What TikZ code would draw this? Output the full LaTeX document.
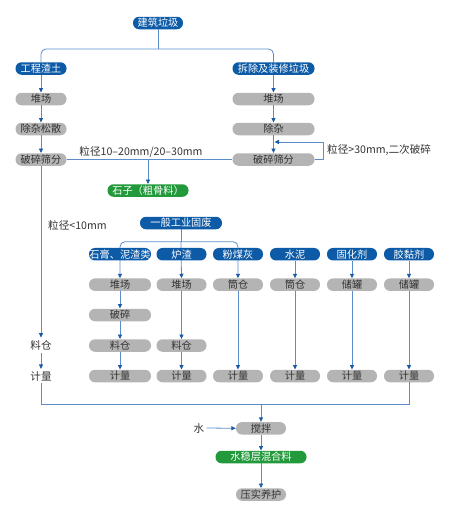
\documentclass[tikz,border=0pt]{standalone}
\usepackage{fontspec}
\setmainfont{Noto Sans CJK SC}
\usetikzlibrary{arrows.meta,backgrounds}
\definecolor{bluebox}{HTML}{0D5AA7}
\definecolor{graybox}{HTML}{B4B4B4}
\definecolor{greenbox}{HTML}{22993B}
\definecolor{lineblue}{HTML}{5A8DCA}
\definecolor{tipblue}{HTML}{1A5AA6}
\definecolor{txtgray}{HTML}{333333}
\tikzset{
  pill/.style={rounded corners=6pt, minimum height=12.5pt, inner sep=0pt, font=\fontsize{10.2}{11}\selectfont},
  bbox/.style={pill, fill=bluebox, text=white},
  gbox/.style={pill, fill=graybox, text=txtgray},
  grbox/.style={pill, fill=greenbox, text=white},
  lbl/.style={inner sep=0pt, text=txtgray, font=\fontsize{10.6}{11}\selectfont},
  ln/.style={draw=lineblue, line width=0.8pt},
  arr/.style={ln, -{Triangle[length=4.5pt,width=4pt,color=tipblue]}},
}
\begin{document}
\begin{tikzpicture}[x=1pt,y=-1pt]
\useasboundingbox (0,0) rectangle (458,514);
% top
\node[bbox, minimum width=50pt] (top) at (158,23) {建筑垃圾};
\node[bbox, minimum width=51pt] (gc) at (41,68.5) {工程渣土};
\node[bbox, minimum width=82pt] (cc) at (273.5,68.5) {拆除及装修垃圾};
\node[gbox, minimum width=51pt] (l1) at (41,99) {堆场};
\node[gbox, minimum width=51pt] (l2) at (41,129) {除杂松散};
\node[gbox, minimum width=51pt] (l3) at (41,159.5) {破碎筛分};
\node[gbox, minimum width=82pt] (r1) at (273.5,99) {堆场};
\node[gbox, minimum width=82pt] (r2) at (273.5,129) {除杂};
\node[gbox, minimum width=82pt] (r3) at (273.5,159.5) {破碎筛分};
\node[grbox, minimum width=81pt] (stone) at (148,190.5) {石子（粗骨料）};
\node[lbl] (lab1) at (141,152) {粒径10–20mm/20–30mm};
\node[lbl, anchor=west] (lab2) at (327,150.5) {粒径>30mm,二次破碎};
\node[lbl, anchor=west] (lab3) at (48,225.7) {粒径<10mm};
% general industrial waste
\node[bbox, minimum width=82pt] (gen) at (181,223) {一般工业固废};
\node[bbox, minimum width=62pt] (a1) at (120,254.2) {石膏、泥渣类};
\node[bbox, minimum width=50pt] (b1) at (181.5,254.2) {炉渣};
\node[bbox, minimum width=50pt] (c1) at (238,254.2) {粉煤灰};
\node[bbox, minimum width=50pt] (d1) at (295,254.2) {水泥};
\node[bbox, minimum width=50pt] (e1) at (352,254.2) {固化剂};
\node[bbox, minimum width=50pt] (f1) at (409,254.2) {胶黏剂};
\node[gbox, minimum width=62pt] (a2) at (120,284.7) {堆场};
\node[gbox, minimum width=50pt] (b2) at (181.5,284.7) {堆场};
\node[gbox, minimum width=50pt] (c2) at (238,284.7) {筒仓};
\node[gbox, minimum width=50pt] (d2) at (295,284.7) {筒仓};
\node[gbox, minimum width=50pt] (e2) at (352,284.7) {储罐};
\node[gbox, minimum width=50pt] (f2) at (409,284.7) {储罐};
\node[gbox, minimum width=62pt] (a3) at (120,315) {破碎};
\node[gbox, minimum width=62pt] (a4) at (120,345.5) {料仓};
\node[gbox, minimum width=50pt] (b4) at (181.5,345.5) {料仓};
\node[gbox, minimum width=62pt] (a5) at (120,376) {计量};
\node[gbox, minimum width=50pt] (b5) at (181.5,376) {计量};
\node[gbox, minimum width=50pt] (c5) at (238,376) {计量};
\node[gbox, minimum width=50pt] (d5) at (295,376) {计量};
\node[gbox, minimum width=50pt] (e5) at (352,376) {计量};
\node[gbox, minimum width=50pt] (f5) at (409,376) {计量};
\node[lbl] (lbin) at (41,345.7) {料仓};
\node[lbl] (lmeas) at (41,376) {计量};
% bottom
\node[gbox, minimum width=50pt] (mix) at (261,428.3) {搅拌};
\node[lbl] (water) at (199,428) {水};
\node[grbox, minimum width=91pt] (mixt) at (261,457) {水稳层混合料};
\node[gbox, minimum width=50pt] (comp) at (261,494.5) {压实养护};
% coordinates
\coordinate (tb) at (158,49);
\coordinate (sp) at (148,159.5);
\coordinate (fb) at (323,159.5);
\coordinate (fe) at (274.5,142);
\coordinate (br) at (181,241.7);
\coordinate (mb) at (41,404);
\coordinate (mj) at (261,404);
% connectors
\draw[ln] (top.south) -- (tb);
\draw[ln, rounded corners=5pt] (tb) -| (gc.north);
\draw[ln, rounded corners=5pt] (tb) -| (cc.north);
\draw[arr] (gc.south) -- (l1.north);
\draw[arr] (l1.south) -- (l2.north);
\draw[arr] (l2.south) -- (l3.north);
\draw[arr] (cc.south) -- (r1.north);
\draw[arr] (r1.south) -- (r2.north);
\draw[arr] (r2.south) -- (r3.north);
\draw[ln] (l3.east) -- (r3.west);
\draw[arr] (sp) -- (stone.north);
\draw[arr] (r3.east) -- (fb) |- (fe);
\draw[arr] (l3.south) -- ([yshift=3pt]lbin.north);
\draw[arr] ([yshift=-2pt]lbin.south) -- ([yshift=2pt]lmeas.north);
\begin{scope}[on background layer]
\draw[ln] (gen.south) -- (br);
\draw[arr, rounded corners=5pt] (br) -| (a2.north);
\draw[arr] (br) -- (b2.north);
\draw[arr, rounded corners=5pt] (br) -| (c2.north);
\end{scope}
\draw[arr] (a2.south) -- (a3.north);
\draw[arr] (a3.south) -- (a4.north);
\draw[arr] (a4.south) -- (a5.north);
\draw[arr] (b2.south) -- (b4.north);
\draw[arr] (b4.south) -- (b5.north);
\draw[arr] (c2.south) -- (c5.north);
\draw[arr] (d1.south) -- (d2.north);
\draw[arr] (d2.south) -- (d5.north);
\draw[arr] (e1.south) -- (e2.north);
\draw[arr] (e2.south) -- (e5.north);
\draw[arr] (f1.south) -- (f2.north);
\draw[arr] (f2.south) -- (f5.north);
\draw[ln] ([yshift=-2pt]lmeas.south) -- (mb) -| (f5.south);
\draw[arr] (mj) -- (mix.north);
\draw[arr] ([xshift=2pt]water.east) -- (mix.west);
\draw[arr] (mix.south) -- (mixt.north);
\draw[arr] (mixt.south) -- (comp.north);
\end{tikzpicture}
\end{document}
